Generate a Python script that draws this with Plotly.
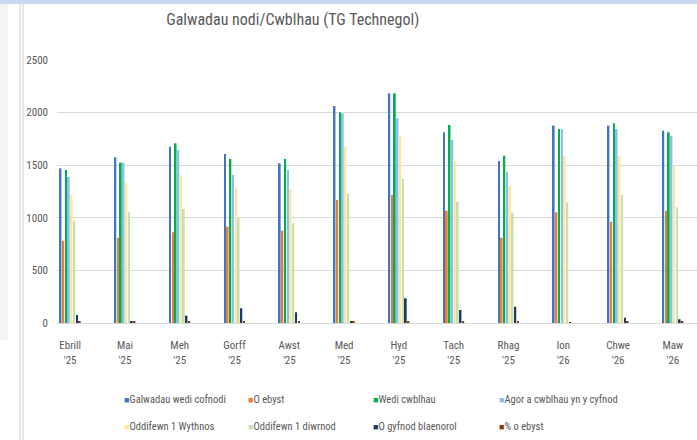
import plotly.graph_objects as go

months = ["Ebrill<br>'25", "Mai<br>'25", "Meh<br>'25", "Gorff<br>'25", "Awst<br>'25", "Med<br>'25",
          "Hyd<br>'25", "Tach<br>'25", "Rhag<br>'25", "Ion<br>'26", "Chwe<br>'26", "Maw<br>'26"]

galwadau_wedi_cofnodi = [1470, 1575, 1676, 1606, 1518, 2063, 2183, 1813, 1540, 1876, 1876, 1828]
o_ebyst = [782, 811, 862, 915, 877, 1169, 1217, 1068, 811, 1052, 963, 1068]
wedi_cwblhau = [1455, 1524, 1708, 1559, 1559, 2003, 2183, 1882, 1590, 1844, 1898, 1813]
agor_a_cwblhau = [1390, 1524, 1644, 1407, 1454, 1993, 1946, 1740, 1438, 1844, 1844, 1778]
oddifewn_1_wythnos = [1217, 1337, 1407, 1290, 1271, 1676, 1771, 1540, 1302, 1590, 1590, 1495]
oddifewn_1_diwrnod = [970, 1052, 1084, 995, 948, 1233, 1369, 1153, 1049, 1147, 1217, 1100]
o_gyfnod_blaenorol = [75, 18, 70, 140, 102, 15, 235, 124, 155, 6, 50, 35]
canran_o_ebyst = [15, 15, 15, 15, 15, 12, 15, 15, 15, 0, 15, 15]

series = [
    ("Galwadau wedi cofnodi", galwadau_wedi_cofnodi, "#4472C4"),
    ("O ebyst", o_ebyst, "#ED7D31"),
    ("Wedi cwblhau", wedi_cwblhau, "#00B050"),
    ("Agor a cwblhau yn y cyfnod", agor_a_cwblhau, "#8DBDEE"),
    ("Oddifewn 1 Wythnos", oddifewn_1_wythnos, "#FFE699"),
    ("Oddifewn 1 diwrnod", oddifewn_1_diwrnod, "#C5E0B4"),
    ("O gyfnod blaenorol", o_gyfnod_blaenorol, "#203864"),
    ("% o ebyst", canran_o_ebyst, "#843C0C"),
]

FONT = "Liberation Sans Narrow, Roboto Condensed, Open Sans, sans-serif"
GREY = "#595959"

fig = go.Figure()
for name, vals, col in series:
    fig.add_trace(go.Bar(x=list(range(len(months))), y=vals, name=name,
                         marker=dict(color=col, line=dict(width=0)), showlegend=False))

fig.update_layout(
    width=697, height=440,
    margin=dict(l=57, r=0, t=60, b=117),
    paper_bgcolor="white", plot_bgcolor="white",
    barmode="group", bargap=0.6, bargroupgap=0.35,
    font=dict(family=FONT, color=GREY, size=11),
    title=dict(text="Galwadau nodi/Cwblhau (TG Technegol)", x=0.42, xanchor="center",
               y=0.955, yanchor="middle", font=dict(size=16, color=GREY, family=FONT)),
)
fig.update_xaxes(tickmode="array", tickvals=list(range(len(months))), ticktext=months,
                 range=[-0.24, 11.44], showline=True, linecolor="#D9D9D9", linewidth=1,
                 showgrid=False, zeroline=False, ticks="", tickfont=dict(size=11, color=GREY),
                 ticklabelstandoff=12)
fig.update_yaxes(range=[0, 2500], dtick=500, showgrid=True, gridcolor="#D9D9D9", gridwidth=1,
                 zeroline=False, showline=False, ticks="", tickfont=dict(size=11, color=GREY),
                 ticklabelstandoff=8)

# frame decorations of the screenshot
fig.add_shape(type="rect", xref="paper", yref="paper", x0=-57/640, x1=1, y0=1 + 56/263, y1=1 + 60/263,
              fillcolor="#C9D8EE", line=dict(width=0), layer="above")
fig.add_shape(type="rect", xref="paper", yref="paper", x0=-57/640, x1=-49/640, y0=(323 - 340) / 263, y1=1 + 56/263,
              fillcolor="#F4F4F4", line=dict(width=0))
for xp in (20, 23):
    fig.add_shape(type="line", xref="paper", yref="paper", x0=(xp - 57) / 640, x1=(xp - 57) / 640,
                  y0=-117/263, y1=1 + 56/263, line=dict(color="#D0D0D0", width=1))

# legend drawn as text rows
cols_x = [122, 246, 371, 497]
rows_y = [399, 426]
for i, (name, vals, col) in enumerate(series):
    r, c = divmod(i, 4)
    fig.add_annotation(xref="paper", yref="paper",
                       x=(cols_x[c] - 57) / 640, y=(323 - rows_y[r]) / 263,
                       xanchor="left", yanchor="middle", showarrow=False,
                       text=f'<span style="color:{col};font-size:9px">■</span>{name}',
                       font=dict(size=10.5, color=GREY, family=FONT))

fig.write_html("out.html", config={"displayModeBar": False},
               post_script="document.body.style.margin='0';document.body.style.overflow='hidden';")
